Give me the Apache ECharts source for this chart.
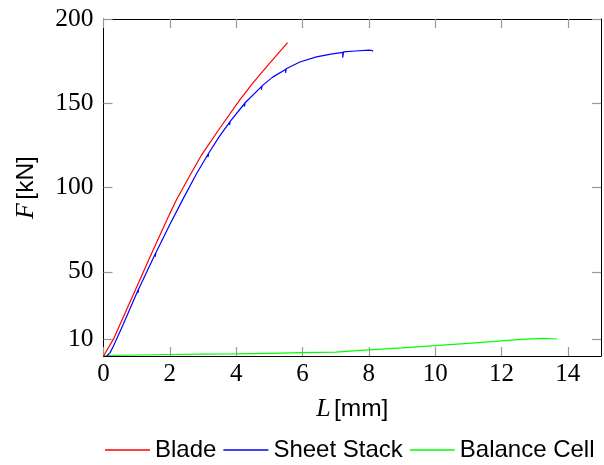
<!DOCTYPE html>
<html><head><meta charset="utf-8">
<script src="https://cdn.jsdelivr.net/npm/echarts@6/dist/echarts.min.js"></script>
<style>html,body{margin:0;padding:0;background:#fff}#c{width:604px;height:465px}</style>
</head><body><div id="c"></div>
<script>
const seriesNames = ['Blade', 'Sheet Stack', 'Balance Cell'];
const seriesColors = ['#ff0000', '#0000ff', '#00ff00'];
// [L in mm, F in kN]
const bladeData = [[0,0],[0.3,10],[1,41],[1.5,63],[2,84.5],[2.2,92.7],[2.6,107],[2.96,119.4],[3.5,135],[4.11,152],[4.5,162],[5,173.5],[5.55,186]];
const sheetStackData = [[0.1,0],[0.2,2],[0.3,6],[0.6,19],[1.05,39.5],[1.04,37.5],[1.06,39.8],[1.57,61],[1.56,59],[1.58,61.3],[2,78],[2.38,92.5],[2.8,108],[3.16,120],[3.15,118],[3.17,120.3],[3.5,130.5],[3.81,139],[3.8,137],[3.82,139.3],[4.26,150],[4.25,148],[4.27,150.3],[4.77,160],[4.76,158],[4.78,160.3],[5.1,165.5],[5.5,170.2],[5.49,168],[5.51,170.5],[5.92,174.5],[6.42,177.5],[6.9,179.3],[7.22,180.2],[7.21,177],[7.24,180.5],[7.6,181],[8.0,181.5],[8.1,181.3],[8.13,180.8]];
const balanceCellData = [[0,0.3],[1,0.6],[2,0.9],[3,1.1],[4,1.3],[5,1.6],[6,2.0],[7,2.3],[8,3.6],[9,4.8],[10,6.1],[11,7.5],[12,9.0],[12.6,9.9],[13.25,10.5],[13.68,10.1]];
const xTicks = [0,2,4,6,8,10,12,14];
const yTicks = [10,50,100,150,200];
const xMax = 15, yMax = 200;

const chart = echarts.init(document.getElementById('c'), null, {renderer: 'canvas'});
const serif = '"Liberation Serif", "DejaVu Serif", serif';
const sans = '"Liberation Sans", Arial, sans-serif';
const tickStyle = {show: true, inside: true, length: 9, lineStyle: {color: '#999', width: 1.2}};
const lineBox = {show: true, onZero: false, lineStyle: {color: '#000', width: 1}};
const datas = [bladeData, sheetStackData, balanceCellData];
const nameRich = {i: {fontFamily: serif, fontStyle: 'italic', fontSize: 26, color: '#000'}, s: {fontFamily: sans, fontSize: 24.5, color: '#000'}};

chart.setOption({
  backgroundColor: '#fff',
  animation: false,
  grid: {left: 103.5, top: 19, width: 497.5, height: 337, outerBoundsMode: 'none', containLabel: false},
  legend: {
    left: 105, top: 438, padding: 0, width: 499, itemWidth: 45, itemHeight: 1.3, itemGap: 7, icon: 'rect',
    textStyle: {fontFamily: sans, fontSize: 24, color: '#000'},
    data: seriesNames.map((n, i) => ({name: n, itemStyle: {color: seriesColors[i]}}))
  },
  xAxis: [{
    type: 'value', min: 0, max: xMax, position: 'bottom',
    name: '{i|L} {s|[mm]}', nameLocation: 'middle', nameGap: 40,
    nameTextStyle: {rich: nameRich},
    axisLine: lineBox, splitLine: {show: false},
    axisTick: Object.assign({customValues: xTicks}, tickStyle),
    axisLabel: {customValues: xTicks, fontFamily: serif, fontSize: 25, color: '#000', margin: 6}
  }, {
    type: 'value', min: 0, max: xMax, position: 'top',
    axisLine: lineBox, splitLine: {show: false},
    axisTick: Object.assign({customValues: xTicks}, tickStyle),
    axisLabel: {show: false}
  }],
  yAxis: [{
    type: 'value', min: 0, max: yMax, position: 'left',
    name: '{i|F} {s|[kN]}', nameLocation: 'middle', nameGap: 64, nameRotate: 90,
    nameTextStyle: {rich: nameRich},
    axisLine: lineBox, splitLine: {show: false},
    axisTick: Object.assign({customValues: yTicks}, tickStyle),
    axisLabel: {customValues: yTicks, fontFamily: serif, fontSize: 25.5, color: '#000', margin: 10}
  }, {
    type: 'value', min: 0, max: yMax, position: 'right',
    axisLine: lineBox, splitLine: {show: false},
    axisTick: Object.assign({customValues: yTicks}, tickStyle),
    axisLabel: {show: false}
  }],
  series: seriesNames.map((n, i) => ({
    name: n, type: 'line', data: datas[i], xAxisIndex: 0, yAxisIndex: 0,
    symbol: 'none', showSymbol: false, smooth: false,
    lineStyle: {color: seriesColors[i], width: 1.2},
    itemStyle: {color: seriesColors[i]},
    z: 3 - i
  }))
});
</script></body></html>
